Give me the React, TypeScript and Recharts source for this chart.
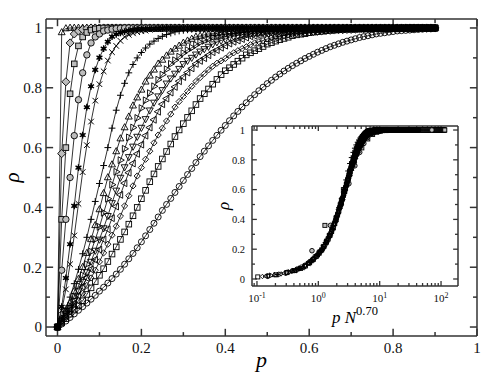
import React from "react";
import { LineChart, Line, ScatterChart, Scatter, XAxis, YAxis, ReferenceLine } from "recharts";

// sampling points of p used by every curve
const P = [
  0, 0.01, 0.02, 0.03, 0.04, 0.05, 0.06, 0.07, 0.08, 0.09,
  0.1, 0.11, 0.12, 0.13, 0.14, 0.15, 0.16, 0.17, 0.18, 0.19,
  0.2, 0.21, 0.22, 0.23, 0.24, 0.25, 0.26, 0.27, 0.28, 0.29,
  0.3, 0.31, 0.32, 0.33, 0.34, 0.35, 0.36, 0.37, 0.38, 0.39,
  0.4, 0.41, 0.42, 0.43, 0.44, 0.45, 0.46, 0.47, 0.48, 0.49,
  0.5, 0.51, 0.52, 0.53, 0.54, 0.55, 0.56, 0.57, 0.58, 0.59,
  0.6, 0.61, 0.62, 0.63, 0.64, 0.65, 0.66, 0.67, 0.68, 0.69,
  0.7, 0.71, 0.72, 0.73, 0.74, 0.75, 0.76, 0.77, 0.78, 0.79,
  0.8, 0.81, 0.82, 0.83, 0.84, 0.85, 0.86, 0.87, 0.88, 0.89,
  0.9,
];

// system sizes, steepest curve first
const N_SIZES = [8192, 2048, 1024, 512, 256, 192, 80, 68, 57, 49, 43, 36, 28, 18];

const rhoN8192 = [
  0, 0.985, 0.998, 1, 1, 1, 1, 1, 1, 1,
  1, 1, 1, 1, 1, 1, 1, 1, 1, 1,
  1, 1, 1, 1, 1, 1, 1, 1, 1, 1,
  1, 1, 1, 1, 1, 1, 1, 1, 1, 1,
  1, 1, 1, 1, 1, 1, 1, 1, 1, 1,
  1, 1, 1, 1, 1, 1, 1, 1, 1, 1,
  1, 1, 1, 1, 1, 1, 1, 1, 1, 1,
  1, 1, 1, 1, 1, 1, 1, 1, 1, 1,
  1, 1, 1, 1, 1, 1, 1, 1, 1, 1,
  1,
];

const rhoN2048 = [
  0, 0.58, 0.82, 0.95, 0.98, 0.99, 0.995, 0.998, 1, 1,
  1, 1, 1, 1, 1, 1, 1, 1, 1, 1,
  1, 1, 1, 1, 1, 1, 1, 1, 1, 1,
  1, 1, 1, 1, 1, 1, 1, 1, 1, 1,
  1, 1, 1, 1, 1, 1, 1, 1, 1, 1,
  1, 1, 1, 1, 1, 1, 1, 1, 1, 1,
  1, 1, 1, 1, 1, 1, 1, 1, 1, 1,
  1, 1, 1, 1, 1, 1, 1, 1, 1, 1,
  1, 1, 1, 1, 1, 1, 1, 1, 1, 1,
  1,
];

const rhoN1024 = [
  0, 0.36, 0.6, 0.78, 0.88, 0.94, 0.97, 0.985, 0.993, 0.997,
  0.999, 1, 1, 1, 1, 1, 1, 1, 1, 1,
  1, 1, 1, 1, 1, 1, 1, 1, 1, 1,
  1, 1, 1, 1, 1, 1, 1, 1, 1, 1,
  1, 1, 1, 1, 1, 1, 1, 1, 1, 1,
  1, 1, 1, 1, 1, 1, 1, 1, 1, 1,
  1, 1, 1, 1, 1, 1, 1, 1, 1, 1,
  1, 1, 1, 1, 1, 1, 1, 1, 1, 1,
  1, 1, 1, 1, 1, 1, 1, 1, 1, 1,
  1,
];

const rhoN512 = [
  0, 0.19, 0.36, 0.5, 0.64, 0.76, 0.85, 0.91, 0.95, 0.97,
  0.98, 0.99, 0.993, 0.996, 0.998, 0.999, 1, 1, 1, 1,
  1, 1, 1, 1, 1, 1, 1, 1, 1, 1,
  1, 1, 1, 1, 1, 1, 1, 1, 1, 1,
  1, 1, 1, 1, 1, 1, 1, 1, 1, 1,
  1, 1, 1, 1, 1, 1, 1, 1, 1, 1,
  1, 1, 1, 1, 1, 1, 1, 1, 1, 1,
  1, 1, 1, 1, 1, 1, 1, 1, 1, 1,
  1, 1, 1, 1, 1, 1, 1, 1, 1, 1,
  1,
];

const rhoN256 = [
  0, 0.068, 0.164, 0.277, 0.405, 0.533, 0.642, 0.735, 0.805, 0.86,
  0.901, 0.931, 0.954, 0.971, 0.979, 0.984, 0.988, 0.991, 0.994, 0.996,
  0.997, 0.997, 0.998, 0.998, 0.999, 0.999, 1, 1, 1, 1,
  1, 1, 1, 1, 1, 1, 1, 1, 1, 1,
  1, 1, 1, 1, 1, 1, 1, 1, 1, 1,
  1, 1, 1, 1, 1, 1, 1, 1, 1, 1,
  1, 1, 1, 1, 1, 1, 1, 1, 1, 1,
  1, 1, 1, 1, 1, 1, 1, 1, 1, 1,
  1, 1, 1, 1, 1, 1, 1, 1, 1, 1,
  1,
];

const rhoN192 = [
  0, 0.055, 0.126, 0.21, 0.306, 0.412, 0.518, 0.608, 0.687, 0.757,
  0.812, 0.855, 0.891, 0.919, 0.94, 0.957, 0.97, 0.977, 0.982, 0.986,
  0.989, 0.991, 0.994, 0.996, 0.996, 0.997, 0.997, 0.998, 0.998, 0.999,
  0.999, 1, 1, 1, 1, 1, 1, 1, 1, 1,
  1, 1, 1, 1, 1, 1, 1, 1, 1, 1,
  1, 1, 1, 1, 1, 1, 1, 1, 1, 1,
  1, 1, 1, 1, 1, 1, 1, 1, 1, 1,
  1, 1, 1, 1, 1, 1, 1, 1, 1, 1,
  1, 1, 1, 1, 1, 1, 1, 1, 1, 1,
  1,
];

const rhoN80 = [
  0, 0.03, 0.062, 0.1, 0.145, 0.193, 0.245, 0.3, 0.36, 0.42,
  0.48, 0.54, 0.6, 0.665, 0.725, 0.775, 0.815, 0.85, 0.878, 0.9,
  0.918, 0.933, 0.946, 0.956, 0.965, 0.972, 0.978, 0.983, 0.987, 0.99,
  0.992, 0.994, 0.996, 0.997, 0.998, 0.998, 0.999, 0.999, 1, 1,
  1, 1, 1, 1, 1, 1, 1, 1, 1, 1,
  1, 1, 1, 1, 1, 1, 1, 1, 1, 1,
  1, 1, 1, 1, 1, 1, 1, 1, 1, 1,
  1, 1, 1, 1, 1, 1, 1, 1, 1, 1,
  1, 1, 1, 1, 1, 1, 1, 1, 1, 1,
  1,
];

const rhoN68 = [
  0, 0.027, 0.053, 0.08, 0.12, 0.16, 0.2, 0.247, 0.293, 0.34,
  0.393, 0.447, 0.5, 0.543, 0.587, 0.63, 0.667, 0.703, 0.74, 0.767,
  0.793, 0.82, 0.84, 0.86, 0.88, 0.893, 0.907, 0.92, 0.93, 0.94,
  0.95, 0.957, 0.963, 0.97, 0.973, 0.977, 0.98, 0.982, 0.983, 0.985,
  0.987, 0.988, 0.99, 0.991, 0.992, 0.993, 0.994, 0.995, 0.996, 0.996,
  0.996, 0.997, 0.997, 0.997, 0.998, 0.998, 0.998, 0.999, 0.999, 0.999,
  0.999, 1, 1, 1, 1, 1, 1, 1, 1, 1,
  1, 1, 1, 1, 1, 1, 1, 1, 1, 1,
  1, 1, 1, 1, 1, 1, 1, 1, 1, 1,
  1,
];

const rhoN57 = [
  0, 0.024, 0.047, 0.071, 0.102, 0.138, 0.173, 0.21, 0.252, 0.293,
  0.335, 0.382, 0.429, 0.476, 0.519, 0.558, 0.596, 0.634, 0.667, 0.699,
  0.732, 0.758, 0.782, 0.805, 0.827, 0.844, 0.862, 0.88, 0.892, 0.904,
  0.916, 0.926, 0.934, 0.943, 0.952, 0.957, 0.963, 0.969, 0.973, 0.976,
  0.979, 0.981, 0.982, 0.984, 0.985, 0.987, 0.988, 0.99, 0.991, 0.992,
  0.992, 0.993, 0.994, 0.995, 0.996, 0.996, 0.996, 0.997, 0.997, 0.997,
  0.997, 0.998, 0.998, 0.998, 0.998, 0.999, 0.999, 0.999, 0.999, 1,
  1, 1, 1, 1, 1, 1, 1, 1, 1, 1,
  1, 1, 1, 1, 1, 1, 1, 1, 1, 1,
  1,
];

const rhoN49 = [
  0, 0.021, 0.043, 0.064, 0.088, 0.12, 0.152, 0.184, 0.219, 0.256,
  0.293, 0.331, 0.372, 0.415, 0.457, 0.5, 0.535, 0.569, 0.604, 0.637,
  0.667, 0.696, 0.725, 0.751, 0.772, 0.793, 0.815, 0.832, 0.848, 0.864,
  0.88, 0.891, 0.901, 0.912, 0.922, 0.93, 0.938, 0.946, 0.953, 0.958,
  0.963, 0.969, 0.972, 0.975, 0.977, 0.98, 0.981, 0.983, 0.984, 0.985,
  0.987, 0.988, 0.989, 0.99, 0.991, 0.992, 0.993, 0.994, 0.994, 0.995,
  0.996, 0.996, 0.996, 0.997, 0.997, 0.997, 0.997, 0.998, 0.998, 0.998,
  0.998, 0.999, 0.999, 0.999, 0.999, 0.999, 1, 1, 1, 1,
  1, 1, 1, 1, 1, 1, 1, 1, 1, 1,
  1,
];

const rhoN43 = [
  0, 0.019, 0.039, 0.058, 0.078, 0.105, 0.135, 0.164, 0.193, 0.225,
  0.259, 0.293, 0.327, 0.364, 0.403, 0.442, 0.481, 0.516, 0.547, 0.579,
  0.61, 0.64, 0.667, 0.693, 0.72, 0.745, 0.764, 0.784, 0.803, 0.822,
  0.836, 0.851, 0.865, 0.88, 0.89, 0.899, 0.909, 0.919, 0.926, 0.934,
  0.941, 0.948, 0.954, 0.958, 0.963, 0.968, 0.972, 0.974, 0.976, 0.979,
  0.981, 0.982, 0.983, 0.984, 0.985, 0.987, 0.988, 0.989, 0.99, 0.991,
  0.992, 0.992, 0.993, 0.994, 0.995, 0.995, 0.996, 0.996, 0.996, 0.997,
  0.997, 0.997, 0.997, 0.998, 0.998, 0.998, 0.998, 0.999, 0.999, 0.999,
  0.999, 0.999, 1, 1, 1, 1, 1, 1, 1, 1,
  1,
];

const rhoN36 = [
  0, 0.017, 0.034, 0.051, 0.068, 0.088, 0.113, 0.139, 0.164, 0.19,
  0.218, 0.248, 0.277, 0.307, 0.337, 0.371, 0.405, 0.439, 0.472, 0.505,
  0.533, 0.561, 0.588, 0.616, 0.642, 0.665, 0.689, 0.712, 0.735, 0.754,
  0.771, 0.788, 0.805, 0.821, 0.834, 0.847, 0.86, 0.872, 0.882, 0.89,
  0.898, 0.909, 0.917, 0.924, 0.931, 0.937, 0.944, 0.95, 0.954, 0.958,
  0.963, 0.967, 0.971, 0.973, 0.975, 0.977, 0.979, 0.981, 0.982, 0.983,
  0.984, 0.985, 0.986, 0.987, 0.988, 0.989, 0.99, 0.991, 0.991, 0.992,
  0.992, 0.993, 0.994, 0.994, 0.995, 0.995, 0.996, 0.996, 0.996, 0.996,
  0.997, 0.997, 0.997, 0.997, 0.998, 0.998, 0.998, 0.998, 0.999, 0.999,
  0.999,
];

const rhoN28 = [
  0, 0.014, 0.028, 0.043, 0.057, 0.071, 0.088, 0.109, 0.131, 0.152,
  0.173, 0.195, 0.219, 0.244, 0.268, 0.293, 0.318, 0.344, 0.372, 0.4,
  0.429, 0.457, 0.486, 0.512, 0.537, 0.562, 0.587, 0.612, 0.637, 0.659,
  0.68, 0.701, 0.723, 0.744, 0.764, 0.78, 0.796, 0.812, 0.828, 0.844,
  0.857, 0.867, 0.878, 0.889, 0.899, 0.91, 0.917, 0.924, 0.931, 0.938,
  0.946, 0.951, 0.956, 0.961, 0.965, 0.969, 0.974, 0.977, 0.979, 0.981,
  0.984, 0.986, 0.988, 0.989, 0.991, 0.992, 0.993, 0.994, 0.995, 0.996,
  0.996, 0.996, 0.997, 0.997, 0.997, 0.998, 0.998, 0.998, 0.998, 0.999,
  0.999, 0.999, 0.999, 0.999, 1, 1, 1, 1, 1, 1,
  1,
];

const rhoN18 = [
  0, 0.01, 0.02, 0.032, 0.044, 0.056, 0.068, 0.08, 0.093, 0.106,
  0.12, 0.133, 0.147, 0.162, 0.177, 0.193, 0.21, 0.228, 0.246, 0.265,
  0.285, 0.305, 0.326, 0.347, 0.368, 0.39, 0.41, 0.43, 0.45, 0.47,
  0.49, 0.51, 0.53, 0.55, 0.57, 0.588, 0.606, 0.624, 0.641, 0.658,
  0.674, 0.69, 0.706, 0.721, 0.736, 0.75, 0.764, 0.777, 0.79, 0.802,
  0.814, 0.825, 0.836, 0.846, 0.856, 0.865, 0.874, 0.882, 0.89, 0.898,
  0.905, 0.912, 0.919, 0.925, 0.931, 0.937, 0.942, 0.947, 0.952, 0.956,
  0.96, 0.964, 0.968, 0.971, 0.974, 0.977, 0.98, 0.982, 0.984, 0.986,
  0.988, 0.99, 0.991, 0.992, 0.993, 0.994, 0.995, 0.996, 0.997, 0.997,
  0.998,
];

const X_TICKS = [0, 0.2, 0.4, 0.6, 0.8, 1];
const X_MINOR = [0.1, 0.3, 0.5, 0.7, 0.9];
const Y_TICKS = [0, 0.2, 0.4, 0.6, 0.8, 1];
const Y_MINOR = [0.1, 0.3, 0.5, 0.7, 0.9];
const LOG_TICKS = [0.1, 1, 10, 100];
const LOG_MINOR = [
  0.09, 0.2, 0.3, 0.4, 0.5, 0.6, 0.7, 0.8, 0.9,
  2, 3, 4, 5, 6, 7, 8, 9, 20, 30, 40, 50, 60, 70, 80, 90,
];

type Shape =
  | "triUp" | "triDown" | "triLeft" | "triRight" | "diamond"
  | "square" | "circle" | "star" | "cross" | "plus";

const SERIES: { rho: number[]; n: number; shape: Shape; fill: string; size: number; inset: boolean }[] = [
  { rho: rhoN8192, n: N_SIZES[0], shape: "triUp", fill: "none", size: 3, inset: false },
  { rho: rhoN2048, n: N_SIZES[1], shape: "diamond", fill: "#bdbdbd", size: 3, inset: false },
  { rho: rhoN1024, n: N_SIZES[2], shape: "square", fill: "#bdbdbd", size: 2.8, inset: true },
  { rho: rhoN512, n: N_SIZES[3], shape: "circle", fill: "#bdbdbd", size: 3.2, inset: true },
  { rho: rhoN256, n: N_SIZES[4], shape: "star", fill: "#000", size: 3.4, inset: true },
  { rho: rhoN192, n: N_SIZES[5], shape: "cross", fill: "none", size: 2.8, inset: true },
  { rho: rhoN80, n: N_SIZES[6], shape: "plus", fill: "none", size: 3.4, inset: true },
  { rho: rhoN68, n: N_SIZES[7], shape: "triUp", fill: "none", size: 3, inset: true },
  { rho: rhoN57, n: N_SIZES[8], shape: "triRight", fill: "none", size: 3, inset: true },
  { rho: rhoN49, n: N_SIZES[9], shape: "triDown", fill: "none", size: 3, inset: true },
  { rho: rhoN43, n: N_SIZES[10], shape: "triLeft", fill: "none", size: 3, inset: true },
  { rho: rhoN36, n: N_SIZES[11], shape: "diamond", fill: "none", size: 2.3, inset: true },
  { rho: rhoN28, n: N_SIZES[12], shape: "square", fill: "none", size: 2.8, inset: true },
  { rho: rhoN18, n: N_SIZES[13], shape: "circle", fill: "none", size: 3, inset: true },
];

const FONT = "'Liberation Serif', 'Times New Roman', Times, serif";
const FRAME = "#333";
const AXIS = { stroke: FRAME, strokeWidth: 1.5 };

const MAIN_X = [-0.0274, 1];
const MAIN_Y = [-0.03, 1.03];
const INSET_X = [0.083, 189];
const INSET_Y = [-0.047, 1.027];

// inward tick lengths, in data units of each axis (about 7px / 4px main, 5px / 3px inset)
const MAIN_DY = [0.024, 0.013];
const MAIN_DX = [0.017, 0.0095];
const INSET_DY = [0.034, 0.02];
const INSET_FX = [1.2, 1.12];

function Marker({ cx, cy, shape, size, fill }: { cx: number; cy: number; shape: Shape; size: number; fill: string }) {
  if (cx == null || cy == null || Number.isNaN(cx) || Number.isNaN(cy)) return null;
  const s = size;
  const st = { stroke: "#000", strokeWidth: 0.9, fill };
  const poly = (pts: number[][]) => pts.map((q) => q.join(",")).join(" ");
  switch (shape) {
    case "circle":
      return <circle cx={cx} cy={cy} r={s} {...st} />;
    case "square":
      return <rect x={cx - s} y={cy - s} width={2 * s} height={2 * s} {...st} />;
    case "diamond":
      return <polygon points={poly([[cx, cy - 1.35 * s], [cx + 1.35 * s, cy], [cx, cy + 1.35 * s], [cx - 1.35 * s, cy]])} {...st} />;
    case "triUp":
      return <polygon points={poly([[cx, cy - 1.3 * s], [cx + 1.15 * s, cy + 0.75 * s], [cx - 1.15 * s, cy + 0.75 * s]])} {...st} />;
    case "triDown":
      return <polygon points={poly([[cx, cy + 1.3 * s], [cx + 1.15 * s, cy - 0.75 * s], [cx - 1.15 * s, cy - 0.75 * s]])} {...st} />;
    case "triLeft":
      return <polygon points={poly([[cx - 1.3 * s, cy], [cx + 0.75 * s, cy - 1.15 * s], [cx + 0.75 * s, cy + 1.15 * s]])} {...st} />;
    case "triRight":
      return <polygon points={poly([[cx + 1.3 * s, cy], [cx - 0.75 * s, cy - 1.15 * s], [cx - 0.75 * s, cy + 1.15 * s]])} {...st} />;
    case "plus":
      return <path d={`M${cx - s},${cy}H${cx + s}M${cx},${cy - s}V${cy + s}`} stroke="#000" strokeWidth={1} fill="none" />;
    case "cross":
      return <path d={`M${cx - s},${cy - s}L${cx + s},${cy + s}M${cx - s},${cy + s}L${cx + s},${cy - s}`} stroke="#000" strokeWidth={1} fill="none" />;
    case "star": {
      const a = s * 0.87;
      const b = s * 0.5;
      return (
        <g>
          <circle cx={cx} cy={cy} r={s * 0.55} fill="#000" />
          <path
            d={`M${cx},${cy - s}V${cy + s}M${cx - a},${cy - b}L${cx + a},${cy + b}M${cx - a},${cy + b}L${cx + a},${cy - b}`}
            stroke="#000"
            strokeWidth={1.4}
            fill="none"
          />
        </g>
      );
    }
  }
  return null;
}

type Seg = { key: string; seg: { x: number; y: number }[] };

// tick marks on all four sides of a frame, pointing inward
function frameTicks(
  xs: number[], xMinor: number[], ys: number[], yMinor: number[],
  xd: number[], yd: number[], dy: number[], dx: number[], logX: boolean
): Seg[] {
  const out: Seg[] = [];
  const xIn = (x0: number, d: number, dir: number) => (logX ? x0 * Math.pow(d, dir) : x0 + dir * d);
  [[xs, 0], [xMinor, 1]].forEach(([vals, k]: any) => {
    vals.forEach((v: number) => {
      out.push({ key: `b${k}-${v}`, seg: [{ x: v, y: yd[0] }, { x: v, y: yd[0] + dy[k] }] });
      out.push({ key: `t${k}-${v}`, seg: [{ x: v, y: yd[1] }, { x: v, y: yd[1] - dy[k] }] });
    });
  });
  [[ys, 0], [yMinor, 1]].forEach(([vals, k]: any) => {
    vals.forEach((v: number) => {
      out.push({ key: `l${k}-${v}`, seg: [{ x: xd[0], y: v }, { x: xIn(xd[0], dx[k], 1), y: v }] });
      out.push({ key: `r${k}-${v}`, seg: [{ x: xd[1], y: v }, { x: xIn(xd[1], dx[k], -1), y: v }] });
    });
  });
  return out;
}

const mainTicks = frameTicks(X_TICKS, X_MINOR, Y_TICKS, Y_MINOR, MAIN_X, MAIN_Y, MAIN_DY, MAIN_DX, false);
const insetTicks = frameTicks(LOG_TICKS, LOG_MINOR, Y_TICKS, Y_MINOR, INSET_X, INSET_Y, INSET_DY, INSET_FX, true);

function labelTick(kind: "x" | "y" | "log", fontSize: number) {
  return (props: any) => {
    const { x, y, payload } = props;
    if (x == null || y == null) return <g />;
    if (kind === "log") {
      return (
        <text x={x} y={y} dy="0.71em" textAnchor="middle" fontFamily={FONT} fontSize={fontSize} fill="#111">
          10
          <tspan dy={-4} fontSize={fontSize * 0.72}>{Math.round(Math.log10(payload.value))}</tspan>
        </text>
      );
    }
    return (
      <text x={x} y={y} dy={kind === "x" ? "0.71em" : "0.355em"} textAnchor={kind === "x" ? "middle" : "end"}
        fontFamily={FONT} fontSize={fontSize} fill="#111">
        {String(payload.value)}
      </text>
    );
  };
}

const mainSeries = SERIES.map((s) => ({
  ...s,
  points: P.map((p, i) => ({ p, r: s.rho[i] })),
}));

const insetSeries = SERIES.filter((s) => s.inset).map((s) => ({
  ...s,
  points: P.map((p, i) => ({ x: p * Math.pow(s.n, 0.7), r: s.rho[i] })).filter(
    (d) => d.x > INSET_X[0] && d.x < INSET_X[1]
  ),
}));

function MainXTitle(props: any) {
  const vb = props.viewBox || { x: 46, y: 336, width: 431, height: 46 };
  return (
    <text x={vb.x + vb.width / 2} y={vb.y + 30.5} textAnchor="middle" fontFamily={FONT} fontStyle="italic" fontSize={22} fill="#000">
      p
    </text>
  );
}

function MainYTitle(props: any) {
  const vb = props.viewBox || { x: 0, y: 19, width: 46, height: 317 };
  const x = vb.x + 19;
  const y = vb.y + vb.height / 2;
  return (
    <text x={x} y={y} transform={`rotate(-90, ${x}, ${y})`} textAnchor="middle" fontFamily={FONT} fontStyle="italic" fontSize={21} fill="#000">
      ρ
    </text>
  );
}

function InsetXTitle(props: any) {
  const vb = props.viewBox || { x: 40, y: 170, width: 206, height: 45 };
  return (
    <text x={vb.x + vb.width / 2} y={vb.y + 37} textAnchor="middle" fontFamily={FONT} fontSize={17} fill="#000">
      <tspan fontStyle="italic">p N</tspan>
      <tspan dy={-8} fontSize={12.5}>0.70</tspan>
    </text>
  );
}

function InsetYTitle(props: any) {
  const vb = props.viewBox || { x: 0, y: 10, width: 40, height: 160 };
  const x = vb.x + 17;
  const y = vb.y + vb.height / 2;
  return (
    <text x={x} y={y} transform={`rotate(-90, ${x}, ${y})`} textAnchor="middle" fontFamily={FONT} fontStyle="italic" fontSize={17} fill="#000">
      ρ
    </text>
  );
}

export default function App() {
  return (
    <div style={{ position: "absolute", left: 0, top: 0, width: 494, height: 382, background: "#fff" }}>
      <LineChart width={494} height={382} margin={{ top: 19, right: 17, bottom: 0, left: 0 }}>
        <XAxis xAxisId="x" type="number" dataKey="p" domain={MAIN_X} allowDataOverflow ticks={X_TICKS} interval={0}
          height={46} tickSize={0} tickMargin={6} axisLine={AXIS} tickLine={false} tick={labelTick("x", 15)} label={MainXTitle} />
        <YAxis yAxisId="y" type="number" domain={MAIN_Y} allowDataOverflow ticks={Y_TICKS} interval={0}
          width={46} tickSize={0} tickMargin={4} axisLine={AXIS} tickLine={false} tick={labelTick("y", 15)} label={MainYTitle} />
        <ReferenceLine xAxisId="x" yAxisId="y" x={MAIN_X[1]} stroke={FRAME} strokeWidth={1.5} ifOverflow="visible" />
        <ReferenceLine xAxisId="x" yAxisId="y" y={MAIN_Y[1]} stroke={FRAME} strokeWidth={1.5} ifOverflow="visible" />
        {mainTicks.map((t) => (
          <ReferenceLine key={t.key} xAxisId="x" yAxisId="y" segment={t.seg} stroke={FRAME} strokeWidth={1.5} ifOverflow="visible" />
        ))}
        {mainSeries.map((s) => (
          <Line
            key={s.n}
            xAxisId="x"
            yAxisId="y"
            data={s.points}
            dataKey="r"
            type="linear"
            stroke="#000"
            strokeWidth={0.8}
            isAnimationActive={false}
            dot={(d: any) => (
              <Marker key={`m${s.n}-${d.index}`} cx={d.cx} cy={d.cy} shape={s.shape} size={s.size} fill={s.fill} />
            )}
            activeDot={false}
          />
        ))}
      </LineChart>

      <div style={{ position: "absolute", left: 212, top: 116 }}>
        <ScatterChart width={250} height={215} margin={{ top: 10, right: 4, bottom: 0, left: 0 }}>
          <XAxis xAxisId="x" type="number" dataKey="x" scale="log" domain={INSET_X} allowDataOverflow ticks={LOG_TICKS} interval={0}
            height={45} tickSize={0} tickMargin={8} axisLine={AXIS} tickLine={false} tick={labelTick("log", 11)} label={InsetXTitle} />
          <YAxis yAxisId="y" type="number" dataKey="r" domain={INSET_Y} allowDataOverflow ticks={Y_TICKS} interval={0}
            width={40} tickSize={0} tickMargin={7} axisLine={AXIS} tickLine={false} tick={labelTick("y", 10.5)} label={InsetYTitle} />
          <ReferenceLine xAxisId="x" yAxisId="y" x={INSET_X[1]} stroke={FRAME} strokeWidth={1.5} ifOverflow="visible" />
          <ReferenceLine xAxisId="x" yAxisId="y" y={INSET_Y[1]} stroke={FRAME} strokeWidth={1.5} ifOverflow="visible" />
          {insetTicks.map((t) => (
            <ReferenceLine key={t.key} xAxisId="x" yAxisId="y" segment={t.seg} stroke={FRAME} strokeWidth={1.3} ifOverflow="visible" />
          ))}
          {insetSeries.map((s) => (
            <Scatter
              key={s.n}
              xAxisId="x"
              yAxisId="y"
              data={s.points}
              isAnimationActive={false}
              shape={(d: any) => <Marker cx={d.cx} cy={d.cy} shape={s.shape} size={s.size * 0.72} fill={s.fill} />}
            />
          ))}
        </ScatterChart>
      </div>
    </div>
  );
}
